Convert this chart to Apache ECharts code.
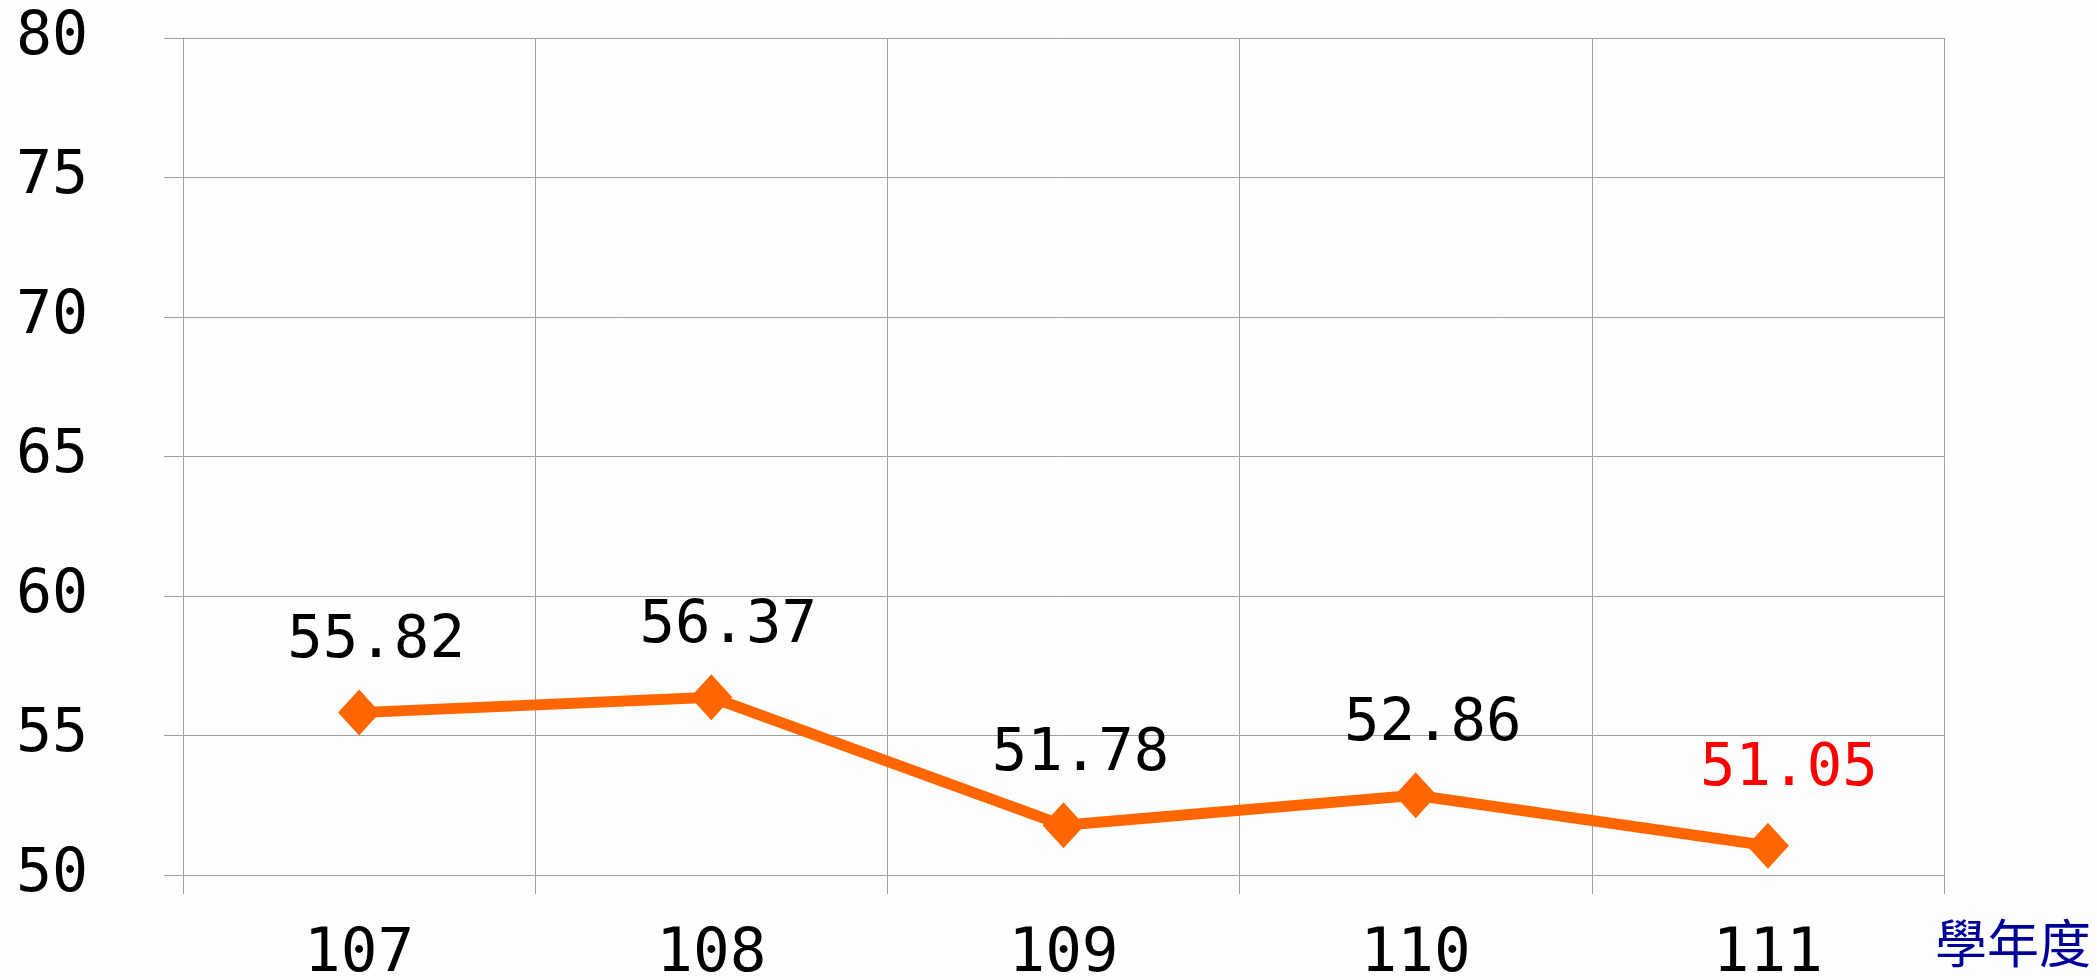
<!DOCTYPE html>
<html>
<head>
<meta charset="utf-8">
<script src="https://cdn.jsdelivr.net/npm/echarts@6/dist/echarts.min.js"></script>
<style>
html,body{margin:0;padding:0;background:#fdfdfd;}
#chart{width:2097px;height:980px;}
</style>
</head>
<body>
<div id="chart"></div>
<script>
const categories = ['107', '108', '109', '110', '111'];
const values = [55.82, 56.37, 51.78, 52.86, 51.05];
const yTicks = [50, 55, 60, 65, 70, 75, 80];
const axisName = '學年度';

const mono = '"DejaVu Sans Mono", monospace';
const chart = echarts.init(document.getElementById('chart'));
const lastIdx = values.length - 1;
const seriesData = values.map((v, i) => i === lastIdx
  ? { value: v, label: { color: '#ff0000', offset: [21, -6] } }
  : { value: v });

chart.setOption({
  backgroundColor: '#fdfdfd',
  animation: false,
  grid: { left: 183, right: 153, top: 38, bottom: 105, containLabel: false, outerBoundsMode: 'none' },
  xAxis: {
    type: 'category',
    data: categories,
    boundaryGap: true,
    axisLine: { show: true, lineStyle: { color: '#a0a0a0', width: 1 } },
    axisTick: { show: true, length: 19, inside: false, lineStyle: { color: '#a0a0a0', width: 1 } },
    splitLine: { show: true, lineStyle: { color: '#a0a0a0', width: 1 } },
    axisLabel: { margin: 50, color: '#000', fontSize: 61, fontFamily: mono }
  },
  yAxis: {
    type: 'value',
    min: yTicks[0],
    max: yTicks[yTicks.length - 1],
    interval: 5,
    axisLine: { show: true, lineStyle: { color: '#a0a0a0', width: 1 } },
    axisTick: { show: true, length: 19, lineStyle: { color: '#a0a0a0', width: 1 } },
    splitLine: { show: true, lineStyle: { color: '#a0a0a0', width: 1 } },
    axisLabel: { align: 'left', margin: 167, color: '#000', fontSize: 60, fontFamily: mono, padding: [4, 0, 0, 0] }
  },
  graphic: [{
    type: 'text',
    left: 1935,
    top: 917,
    style: { text: axisName, fill: '#000099', fontSize: 52, fontFamily: '"Noto Sans CJK TC", sans-serif' }
  }],
  series: [{
    type: 'line',
    data: seriesData,
    symbol: 'diamond',
    symbolSize: [42, 46],
    itemStyle: { color: '#ff6600' },
    lineStyle: { color: '#ff6600', width: 11 },
    label: {
      show: true,
      position: 'top',
      distance: 18,
      offset: [17, 0],
      color: '#000',
      fontSize: 59,
      fontFamily: mono
    }
  }]
});
</script>
</body>
</html>
